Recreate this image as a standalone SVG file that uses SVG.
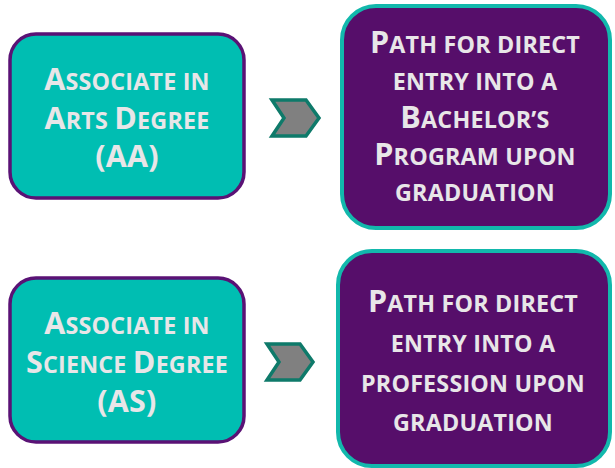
<svg xmlns="http://www.w3.org/2000/svg" width="615" height="468" viewBox="0 0 615 468">
<style>
.left{fill:#00BEB2;stroke:#5A1275;stroke-width:3.5}
.right{fill:#560E6A;stroke:#12B8AC;stroke-width:4}
.t{font-family:"Open Sans","Liberation Sans",sans-serif;font-weight:bold;font-size:23.3px;fill:#E8E6E8;text-anchor:middle;letter-spacing:0.2px}
.c{font-size:30.5px}
.chev{fill:#808080;stroke:#0E7A6A;stroke-width:3.5;stroke-linejoin:miter}
</style>
<rect width="615" height="468" fill="#FFFFFF"/>
<g id="aa">
<rect class="left" x="10" y="34" width="234" height="164" rx="26"/>
<text class="t" x="127" y="90"><tspan class="c">A</tspan>SSOCIATE IN</text>
<text class="t" x="127" y="129"><tspan class="c">A</tspan>RTS <tspan class="c">D</tspan>EGREE</text>
<text class="t" x="127" y="167"><tspan class="c">(AA)</tspan></text>
</g>
<g id="bachelor">
<rect class="right" x="342" y="6" width="268" height="222" rx="34"/>
<text class="t" x="475" y="53"><tspan class="c">P</tspan>ATH FOR DIRECT</text>
<text class="t" x="475" y="90">ENTRY INTO A</text>
<text class="t" x="475" y="128"><tspan class="c">B</tspan>ACHELOR’S</text>
<text class="t" x="475" y="165"><tspan class="c">P</tspan>ROGRAM UPON</text>
<text class="t" x="475" y="201">GRADUATION</text>
</g>
<g id="as">
<rect class="left" x="10" y="278" width="234" height="164" rx="26"/>
<text class="t" x="127" y="334"><tspan class="c">A</tspan>SSOCIATE IN</text>
<text class="t" x="127" y="373"><tspan class="c">S</tspan>CIENCE <tspan class="c">D</tspan>EGREE</text>
<text class="t" x="127" y="412"><tspan class="c">(AS)</tspan></text>
</g>
<g id="profession">
<rect class="right" x="338" y="251" width="272" height="215" rx="34"/>
<text class="t" x="473" y="312"><tspan class="c">P</tspan>ATH FOR DIRECT</text>
<text class="t" x="473" y="352">ENTRY INTO A</text>
<text class="t" x="473" y="392">PROFESSION UPON</text>
<text class="t" x="473" y="431">GRADUATION</text>
</g>
<g id="connectors">
<polygon class="chev" points="272,100 306,100 319,118 306,136 272,136 284,118"/>
<polygon class="chev" points="267,344 300,344 313,362 300,380 267,380 279,362"/>
</g>
</svg>
